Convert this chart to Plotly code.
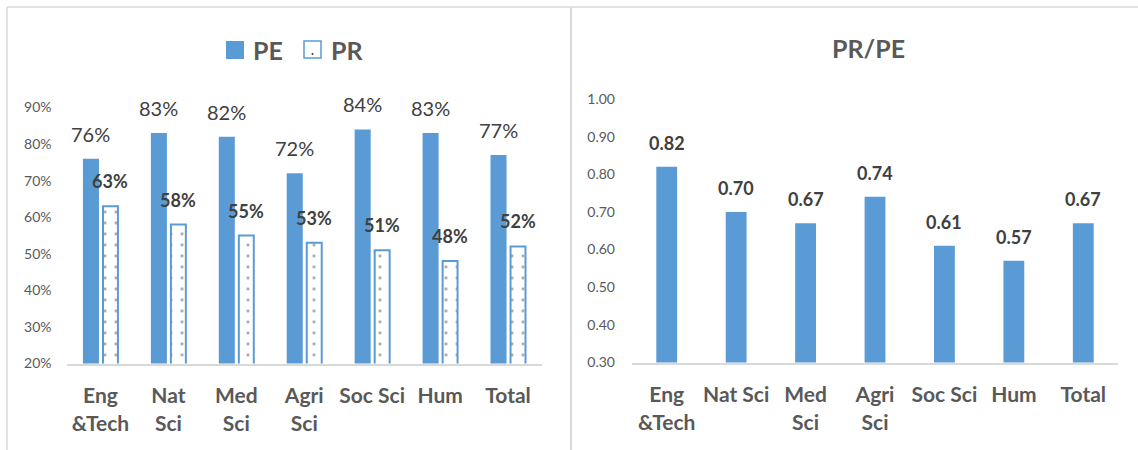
import plotly.graph_objects as go

# ---- data ----
categories_left = ["Eng<br>&Tech", "Nat<br>Sci", "Med<br>Sci", "Agri<br>Sci", "Soc Sci", "Hum", "Total"]
categories_right = ["Eng<br>&Tech", "Nat Sci", "Med<br>Sci", "Agri<br>Sci", "Soc Sci", "Hum", "Total"]
pe_pct = [76, 83, 82, 72, 84, 83, 77]
pr_pct = [63, 58, 55, 53, 51, 48, 52]
pr_pe_ratio = [0.82, 0.70, 0.67, 0.74, 0.61, 0.57, 0.67]
left_ticks = [0.2, 0.3, 0.4, 0.5, 0.6, 0.7, 0.8, 0.9]
right_ticks = [0.3, 0.4, 0.5, 0.6, 0.7, 0.8, 0.9, 1.0]

# ---- style ----
BLUE = "#5B9BD5"
AXIS_TXT = "#595959"
LABEL_TXT = "#404040"
FRAME = "#D9D9D9"
FONT = "Lato"
W, H = 1138, 450

pos = list(range(len(categories_left)))
pe_off, pe_w = -0.258, 0.236
pr_off, pr_w = 0.037, 0.22
ratio_w = 0.30


def px_x(v):
    return v / W


def px_y(v):
    return 1 - v / H


fig = go.Figure()

fig.add_trace(go.Bar(
    x=pos, y=[v / 100 for v in pe_pct], offset=pe_off, width=pe_w,
    marker=dict(color=BLUE, line=dict(width=0)),
    name="PE", xaxis="x", yaxis="y",
))
fig.add_trace(go.Bar(
    x=pos, y=[v / 100 for v in pr_pct], offset=pr_off, width=pr_w,
    marker=dict(
        color="white",
        line=dict(color=BLUE, width=2),
        pattern=dict(shape=".", fgcolor="#333333", bgcolor="white",
                     size=11, solidity=0.05, fillmode="overlay"),
    ),
    name="PR", xaxis="x", yaxis="y",
))
fig.add_trace(go.Bar(
    x=pos, y=pr_pe_ratio, width=ratio_w,
    marker=dict(color=BLUE, line=dict(width=0)),
    name="PR/PE", xaxis="x2", yaxis="y2",
))

annotations = []
# value labels, left panel
for i, v in enumerate(pe_pct):
    annotations.append(dict(
        x=i + pe_off + pe_w / 2, y=v / 100, xref="x", yref="y",
        text=f"{v}%", showarrow=False, yanchor="middle", yshift=25,
        font=dict(family=FONT, size=20, color=LABEL_TXT),
    ))
for i, v in enumerate(pr_pct):
    annotations.append(dict(
        x=i + pr_off + pr_w / 2, y=v / 100, xref="x", yref="y",
        text=f"<b>{v}%</b>", showarrow=False, yanchor="middle", yshift=25,
        font=dict(family=FONT, size=18, color=LABEL_TXT),
    ))
# value labels, right panel
for i, v in enumerate(pr_pe_ratio):
    annotations.append(dict(
        x=i, y=v, xref="x2", yref="y2",
        text=f"<b>{v:.2f}</b>", showarrow=False, yanchor="middle", yshift=24,
        font=dict(family=FONT, size=18, color=LABEL_TXT),
    ))

# right panel title
annotations.append(dict(
    x=px_x(868), y=px_y(48), xref="paper", yref="paper",
    text="<b>PR/PE</b>", showarrow=False, xanchor="center", yanchor="middle",
    font=dict(family=FONT, size=25, color=AXIS_TXT),
))
# legend texts
annotations.append(dict(
    x=px_x(251), y=px_y(50), xref="paper", yref="paper",
    text="<b>PE</b>", showarrow=False, xanchor="left", yanchor="middle",
    font=dict(family=FONT, size=25, color=AXIS_TXT),
))
annotations.append(dict(
    x=px_x(329), y=px_y(50), xref="paper", yref="paper",
    text="<b>PR</b>", showarrow=False, xanchor="left", yanchor="middle",
    font=dict(family=FONT, size=25, color=AXIS_TXT),
))

shapes = [
    # panel frames
    dict(type="line", xref="paper", yref="paper", x0=px_x(7), x1=1, y0=px_y(7), y1=px_y(7),
         line=dict(color=FRAME, width=1.5)),
    dict(type="line", xref="paper", yref="paper", x0=px_x(7), x1=px_x(7), y0=px_y(7), y1=0,
         line=dict(color=FRAME, width=1.5)),
    dict(type="line", xref="paper", yref="paper", x0=px_x(571), x1=px_x(571), y0=px_y(7), y1=0,
         line=dict(color=FRAME, width=2)),
    # legend swatches
    dict(type="rect", xref="paper", yref="paper", x0=px_x(226), x1=px_x(244), y0=px_y(59), y1=px_y(41),
         fillcolor=BLUE, line=dict(width=0)),
    dict(type="rect", xref="paper", yref="paper", x0=px_x(304), x1=px_x(321), y0=px_y(58), y1=px_y(41),
         fillcolor="white", line=dict(color=BLUE, width=1.5)),
    dict(type="circle", xref="paper", yref="paper", x0=px_x(311.5), x1=px_x(313.5), y0=px_y(55), y1=px_y(53),
         fillcolor="#333333", line=dict(width=0)),
]

common_x = dict(
    range=[-0.5, 6.5], tickvals=pos,
    tickfont=dict(family=FONT, size=21, color=AXIS_TXT),
    showline=True, linecolor=FRAME, linewidth=1.5,
    showgrid=False, zeroline=False, ticks="", ticklabelstandoff=13,
    automargin=False, fixedrange=True,
)
common_y = dict(
    tickfont=dict(family=FONT, size=14, color=AXIS_TXT),
    showgrid=False, zeroline=False, showline=False, ticks="",
    automargin=False, fixedrange=True,
)

fig.update_layout(
    template="none",
    width=W, height=H, autosize=False,
    margin=dict(l=0, r=0, t=0, b=0, pad=0, autoexpand=False),
    paper_bgcolor="white", plot_bgcolor="white",
    showlegend=False, barmode="overlay",
    font=dict(family=FONT, color=AXIS_TXT),
    annotations=annotations, shapes=shapes,
    xaxis=dict(
        common_x, domain=[px_x(66.5), px_x(542)], anchor="y",
        ticktext=[f"<b>{c}</b>" for c in categories_left],
    ),
    yaxis=dict(
        common_y, domain=[px_y(363.5), px_y(107.5)], range=[0.2, 0.9], anchor="x",
        tickvals=left_ticks, tickformat=".0%", ticklabelstandoff=14,
    ),
    xaxis2=dict(
        common_x, domain=[px_x(632), px_x(1118)], anchor="y2",
        ticktext=[f"<b>{c}</b>" for c in categories_right],
    ),
    yaxis2=dict(
        common_y, domain=[px_y(362.5), px_y(99)], range=[0.3, 1.0], anchor="x2",
        tickvals=right_ticks, tickformat=".2f", ticklabelstandoff=16,
    ),
)

fig.write_html("out.html", config={"displayModeBar": False})
